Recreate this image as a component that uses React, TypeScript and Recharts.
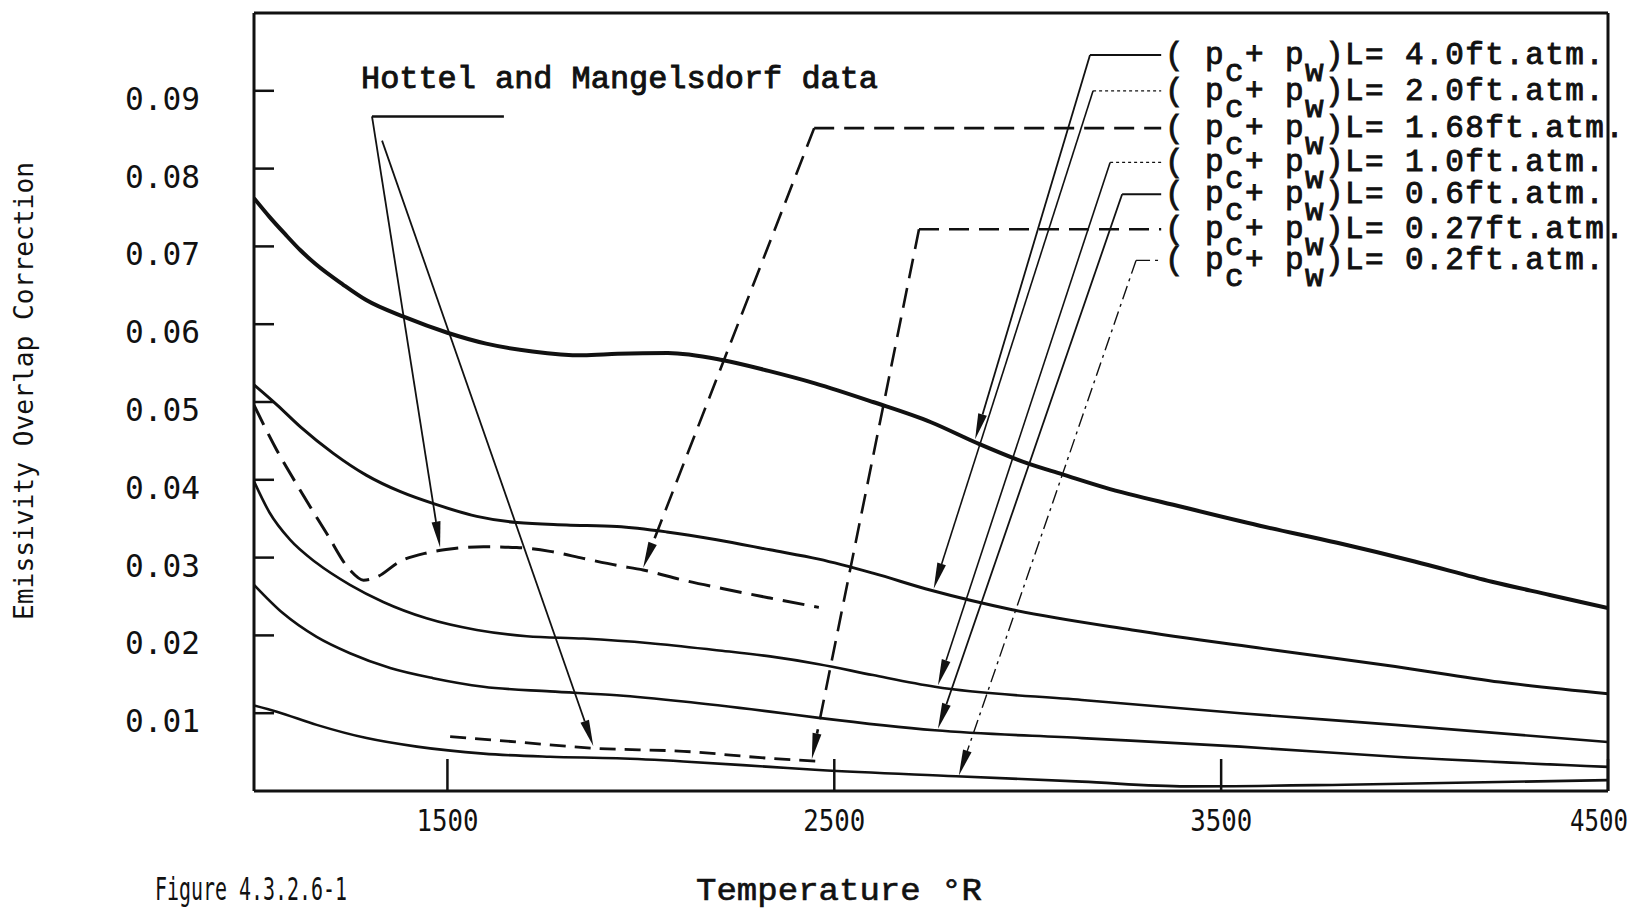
import React from 'react';
import { LineChart, Line, XAxis, YAxis, ReferenceLine, ReferenceDot, Customized } from 'recharts';

type Pt = [number, number];

// [temperature °R, emissivity overlap correction]
const curve40: Pt[] = [
  [1000, 0.0762], [1040, 0.0738], [1080, 0.0716], [1120, 0.0695], [1160, 0.0677], [1230, 0.0651],
  [1290, 0.0631], [1390, 0.0609], [1500, 0.0589], [1600, 0.0575], [1720, 0.0565], [1850, 0.056],
  [1940, 0.0562], [2070, 0.0563], [2210, 0.0554], [2330, 0.054], [2450, 0.0524], [2600, 0.05],
  [2750, 0.0474], [2870, 0.0447], [3000, 0.0421], [3090, 0.0407], [3200, 0.039], [3400, 0.0365],
  [3600, 0.0341], [3800, 0.0319], [4000, 0.0295], [4200, 0.0269], [4350, 0.0252], [4500, 0.0235],
];
const curve20: Pt[] = [
  [1000, 0.0522], [1060, 0.0496], [1120, 0.0468], [1205, 0.0434], [1290, 0.0406], [1377, 0.0385],
  [1472, 0.0368], [1576, 0.0353], [1680, 0.0345], [1808, 0.0342], [1938, 0.034], [2067, 0.0333],
  [2196, 0.0323], [2334, 0.031], [2460, 0.0298], [2600, 0.028], [2750, 0.0258], [2960, 0.0233],
  [3270, 0.0207], [3610, 0.0183], [3950, 0.016], [4220, 0.014], [4500, 0.0125],
];
const curve10: Pt[] = [
  [1000, 0.0398], [1040, 0.0358], [1093, 0.0323], [1162, 0.0293], [1248, 0.0265], [1334, 0.0243],
  [1446, 0.0222], [1576, 0.0207], [1705, 0.0199], [1851, 0.0196], [2024, 0.019], [2196, 0.0181],
  [2334, 0.0173], [2460, 0.0163], [2600, 0.0149], [2760, 0.0134], [3140, 0.0117], [3550, 0.01],
  [3950, 0.0085], [4500, 0.0063],
];
const curve06: Pt[] = [
  [1000, 0.0265], [1076, 0.0228], [1162, 0.0198], [1248, 0.0177], [1352, 0.0158], [1463, 0.0145],
  [1593, 0.0134], [1765, 0.0128], [1938, 0.0123], [2110, 0.0115], [2334, 0.0102], [2460, 0.0094],
  [2760, 0.0078], [3140, 0.0068], [3550, 0.0057], [3950, 0.0044], [4500, 0.0031],
];
const curve02: Pt[] = [
  [1000, 0.011], [1059, 0.0102], [1162, 0.0085], [1291, 0.0068], [1421, 0.0057], [1593, 0.0048],
  [1765, 0.0044], [1938, 0.0042], [2110, 0.0038], [2334, 0.0031], [2460, 0.0027], [2815, 0.0019],
  [3140, 0.0012], [3410, 0.0006], [3820, 0.0008], [4500, 0.0014],
];
// Hottel and Mangelsdorf data (dashed)
const curve168: Pt[] = [
  [1000, 0.0496], [1059, 0.0438], [1119, 0.0387], [1188, 0.0331], [1248, 0.0284], [1283, 0.0271],
  [1317, 0.0275], [1377, 0.0295], [1446, 0.0306], [1507, 0.0311], [1593, 0.0314], [1679, 0.0313],
  [1765, 0.0308], [1851, 0.0299], [1938, 0.029], [2006, 0.0284], [2110, 0.0271], [2213, 0.026],
  [2334, 0.0248], [2460, 0.0236],
];
const curve027: Pt[] = [
  [1507, 0.007], [1679, 0.0063], [1877, 0.0055], [2110, 0.0051], [2334, 0.0042], [2470, 0.0038],
];

const xTicks = [1500, 2500, 3500, 4500];
const xTopTicks = [1500, 2500, 3500];
const yTicks = [0.01, 0.02, 0.03, 0.04, 0.05, 0.06, 0.07, 0.08, 0.09];

// legend rows, top to bottom, with the leader corner and arrow tip for each
const legendValues = ['4.0', '2.0', '1.68', '1.0', '0.6', '0.27', '0.2'];
const legendRowV = [0.0946, 0.09, 0.0852, 0.0808, 0.0767, 0.0722, 0.0682];
const legendStartT = 3355;
const leaderEndT = 3345;
const leaderCornerT = [3161, 3169, 2448, 3213, 3244, 2719, 3280];
const leaderTips: Pt[] = [
  [2864, 0.0452], [2757, 0.026], [2006, 0.0287], [2768, 0.0136], [2768, 0.008], [2442, 0.0041], [2822, 0.002],
];
const leaderKinds = ['solid', 'dotted', 'dashed', 'dotted', 'solid', 'dashed', 'dashdot'];

const hottelBar: Pt[] = [[1305, 0.0867], [1646, 0.0867]];
const hottelStarts: Pt[] = [[1305, 0.0867], [1331, 0.0836]];
const hottelTips: Pt[] = [[1481, 0.0313], [1877, 0.0058]];

const INK = '#111';
const TYPE = "'Liberation Mono', 'Courier New', monospace";
const SANS = "'DejaVu Sans Mono', 'DejaVu Sans', sans-serif";

const rows = (pts: Pt[]) => pts.map(([t, v]) => ({ t, v }));

const leaderStyle: Record<string, { h: any; d: any }> = {
  solid: { h: { strokeWidth: 2 }, d: { strokeWidth: 1.8 } },
  dotted: { h: { strokeWidth: 1.3, strokeDasharray: '3 3' }, d: { strokeWidth: 1.6 } },
  dashed: { h: { strokeWidth: 2.6, strokeDasharray: '20 10' }, d: { strokeWidth: 2.6, strokeDasharray: '20 10' } },
  dashdot: { h: { strokeWidth: 1.4, strokeDasharray: '14 5 3 5' }, d: { strokeWidth: 1.4, strokeDasharray: '14 5 3 5' } },
};

const ArrowLine = (p: any) => {
  const { x1, y1, x2, y2 } = p;
  const len = Math.hypot(x2 - x1, y2 - y1) || 1;
  const ux = (x2 - x1) / len;
  const uy = (y2 - y1) / len;
  const bx = x2 - ux * 26;
  const by = y2 - uy * 26;
  return (
    <g>
      <line x1={x1} y1={y1} x2={bx} y2={by} stroke={INK} strokeWidth={p.strokeWidth} strokeDasharray={p.strokeDasharray} />
      <polygon points={`${x2},${y2} ${bx - uy * 4.5},${by + ux * 4.5} ${bx + uy * 4.5},${by - ux * 4.5}`} fill={INK} />
    </g>
  );
};

const LegendRow = ({ cx, cy, value }: { cx: number; cy: number; value: string }) => (
  <text x={cx} y={cy + 9} fontFamily={TYPE} fontSize={31} letterSpacing={1.4} fill={INK} stroke={INK} strokeWidth={0.9}>
    ( p<tspan dy={17}>c</tspan>
    <tspan dy={-17}>+ p</tspan>
    <tspan dy={17}>w</tspan>
    <tspan dy={-17}>{`)L= ${value}ft.atm.`}</tspan>
  </text>
);

// last label sits against the right frame, like the original
const XTick = (p: any) => {
  const last = p.payload.value === xTicks[xTicks.length - 1];
  return (
    <text x={last ? p.x + 20 : p.x} y={p.y} textAnchor={last ? 'end' : 'middle'} fontFamily={SANS} fontSize={30}
      textLength={last ? 58 : 62} lengthAdjust="spacingAndGlyphs" fill={INK}>{p.payload.value}</text>
  );
};

const YTick = (p: any) => (
  <text x={p.x} y={p.y + 19} textAnchor="end" fontFamily={SANS} fontSize={32} textLength={75}
    lengthAdjust="spacingAndGlyphs" fill={INK}>{p.payload.value.toFixed(2)}</text>
);

const Titles = () => (
  <g fill={INK}>
    <text x={361} y={88} fontFamily={TYPE} fontSize={31} textLength={517} lengthAdjust="spacingAndGlyphs"
      stroke={INK} strokeWidth={0.9}>Hottel and Mangelsdorf data</text>
    <text x={696} y={900} fontFamily={TYPE} fontSize={31} textLength={286} lengthAdjust="spacingAndGlyphs"
      stroke={INK} strokeWidth={0.6}>Temperature °R</text>
    <text x={155} y={900} fontFamily={SANS} fontSize={32} textLength={192} lengthAdjust="spacingAndGlyphs">Figure 4.3.2.6-1</text>
    <text transform="translate(33,391) rotate(-90)" textAnchor="middle" fontFamily={SANS} fontSize={27}
      textLength={458} lengthAdjust="spacingAndGlyphs">Emissivity Overlap Correction</text>
  </g>
);

const solidSeries: { pts: Pt[]; w: number }[] = [
  { pts: curve40, w: 4 },
  { pts: curve20, w: 3 },
  { pts: curve10, w: 2.6 },
  { pts: curve06, w: 2.6 },
  { pts: curve02, w: 2.6 },
];

export default function App() {
  const axisLine = { stroke: INK, strokeWidth: 3 };
  const tickLine = { stroke: INK, strokeWidth: 2.5 };
  return (
    <div style={{ position: 'absolute', left: 0, top: 0, background: '#fff' }}>
      <LineChart width={1641} height={908} margin={{ top: 0, right: 0, bottom: 0, left: 0 }}>
        <XAxis xAxisId="b" type="number" dataKey="t" domain={[1000, 4500]} ticks={xTicks} height={117}
          tickSize={-32} tickMargin={72} axisLine={axisLine} tickLine={tickLine} tick={XTick} interval={0} allowDataOverflow />
        <XAxis xAxisId="t" orientation="top" type="number" dataKey="t" domain={[1000, 4500]} ticks={xTopTicks} height={13}
          tickSize={-30} axisLine={axisLine} tickLine={tickLine} tick={false} interval={0} allowDataOverflow />
        <YAxis yAxisId="l" type="number" domain={[0, 0.1]} ticks={yTicks} width={254} tickSize={-20} tickMargin={74}
          axisLine={axisLine} tickLine={tickLine} tick={YTick} interval={0} allowDataOverflow />
        <YAxis yAxisId="r" orientation="right" type="number" domain={[0, 0.1]} ticks={yTicks} width={33} tickSize={-18}
          axisLine={axisLine} tickLine={tickLine} tick={false} interval={0} allowDataOverflow />

        {solidSeries.map((s, i) => (
          <Line key={`s${i}`} xAxisId="b" yAxisId="l" data={rows(s.pts)} dataKey="v" type="monotone"
            stroke={INK} strokeWidth={s.w} dot={false} isAnimationActive={false} />
        ))}
        <Line xAxisId="b" yAxisId="l" data={rows(curve168)} dataKey="v" type="monotone" stroke={INK} strokeWidth={3}
          strokeDasharray="22 10" dot={false} isAnimationActive={false} />
        <Line xAxisId="b" yAxisId="l" data={rows(curve027)} dataKey="v" type="monotone" stroke={INK} strokeWidth={2.8}
          strokeDasharray="16 9" dot={false} isAnimationActive={false} />

        {legendValues.map((v, i) => {
          const st = leaderStyle[leaderKinds[i]];
          return (
            <React.Fragment key={`lg${i}`}>
              <ReferenceLine xAxisId="b" yAxisId="l" stroke={INK} {...st.h}
                segment={[{ x: leaderCornerT[i], y: legendRowV[i] }, { x: leaderEndT, y: legendRowV[i] }]} />
              <ReferenceLine xAxisId="b" yAxisId="l" stroke={INK} {...st.d} shape={ArrowLine}
                segment={[{ x: leaderCornerT[i], y: legendRowV[i] }, { x: leaderTips[i][0], y: leaderTips[i][1] }]} />
              <ReferenceDot xAxisId="b" yAxisId="l" x={legendStartT} y={legendRowV[i]}
                shape={(p: any) => <LegendRow cx={p.cx} cy={p.cy} value={v} />} />
            </React.Fragment>
          );
        })}

        <ReferenceLine xAxisId="b" yAxisId="l" stroke={INK} strokeWidth={2.5}
          segment={[{ x: hottelBar[0][0], y: hottelBar[0][1] }, { x: hottelBar[1][0], y: hottelBar[1][1] }]} />
        {hottelTips.map((tip, i) => (
          <ReferenceLine key={`h${i}`} xAxisId="b" yAxisId="l" stroke={INK} strokeWidth={1.8} shape={ArrowLine}
            segment={[{ x: hottelStarts[i][0], y: hottelStarts[i][1] }, { x: tip[0], y: tip[1] }]} />
        ))}

        <Customized component={Titles} />
      </LineChart>
    </div>
  );
}
